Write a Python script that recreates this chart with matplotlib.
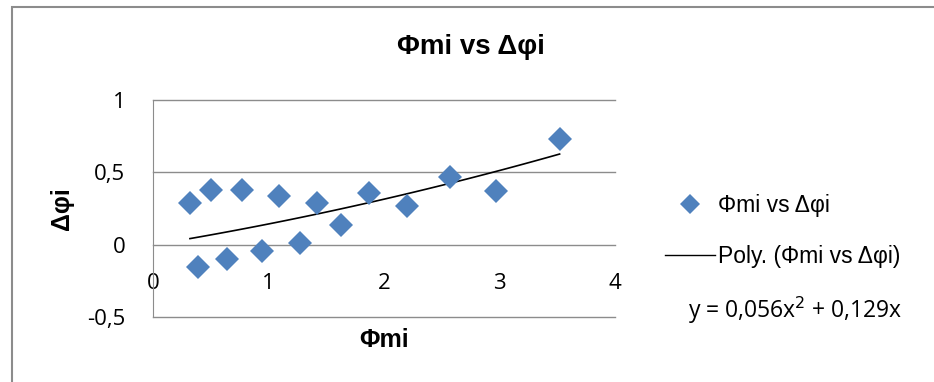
import matplotlib.pyplot as plt
import numpy as np
from matplotlib.patches import Rectangle
from matplotlib.lines import Line2D

plt.rcParams['font.family'] = ['Open Sans', 'DejaVu Sans']
greek_font = ['Liberation Sans', 'DejaVu Sans']

# measured points
phi_mi = [0.32, 0.39, 0.50, 0.64, 0.77, 0.94, 1.09, 1.27, 1.42, 1.63, 1.87, 2.20, 2.57, 2.97, 3.52]
delta_phi = [0.29, -0.15, 0.38, -0.10, 0.38, -0.04, 0.34, 0.01, 0.29, 0.14, 0.36, 0.27, 0.47, 0.37, 0.73]

x_ticks = [0, 1, 2, 3, 4]
y_ticks = [-0.5, 0, 0.5, 1]
y_tick_labels = ['-0,5', '0', '0,5', '1']
eq_text = 'y = 0,056x$^2$ + 0,129x'

x = np.array(phi_mi)
y = np.array(delta_phi)

# second order trend through the origin
A = np.column_stack([x ** 2, x])
coef, *_ = np.linalg.lstsq(A, y, rcond=None)
xs = np.linspace(x.min(), x.max(), 100)
ys = coef[0] * xs ** 2 + coef[1] * xs

fig = plt.figure(figsize=(9.34, 3.82), dpi=100)
ax = fig.add_axes([0.1638, 0.1694, 0.4947, 0.5688])

for yt in y_ticks:
    ax.axhline(yt, color='#8c8c8c', lw=1.0, zorder=1, clip_on=False)

ax.plot(xs, ys, color='black', lw=1.2, zorder=2)
ax.plot(x, y, 'D', color='#4f81bd', markersize=12.5, markeredgewidth=0, zorder=3)

ax.set_xlim(0, 4)
ax.set_ylim(-0.5, 1)
ax.set_xticks(x_ticks)
ax.set_yticks(y_ticks)
ax.set_yticklabels(y_tick_labels)
for s in ['top', 'right']:
    ax.spines[s].set_visible(False)
ax.spines['bottom'].set_position(('data', 0))
ax.spines['bottom'].set_visible(False)
ax.spines['left'].set_color('#8c8c8c')
ax.tick_params(axis='both', length=0, labelsize=16, colors='black')
ax.tick_params(axis='x', pad=20)
ax.tick_params(axis='y', pad=20)

fig.text(471 / 934, 1 - 47 / 382, 'Φmi vs Δφi', fontsize=20, fontweight='bold',
         family=greek_font, ha='center', va='center')
ax.set_xlabel('Φmi', fontsize=18, fontweight='bold', family=greek_font)
ax.xaxis.set_label_coords(0.5, -0.105)
ax.xaxis.label.set_va('center')
ax.set_ylabel('Δφi', fontsize=18, fontweight='bold', family=greek_font)
ax.yaxis.set_label_coords(-0.197, 0.5)
ax.yaxis.label.set_va('center')

# legend and equation on the right
handles = [
    Line2D([], [], marker='D', ls='none', color='#4f81bd', markersize=10, markeredgewidth=0),
    Line2D([], [], color='black', lw=1.0),
]
fig.legend(handles, ['Φmi vs Δφi', 'Poly. (Φmi vs Δφi)'], loc='center left',
           bbox_to_anchor=(0.6895, 0.395), frameon=False,
           prop={'family': greek_font, 'size': 16.5},
           handlelength=2.2, handletextpad=0.15, labelspacing=1.2)
fig.text(795 / 934, 1 - 310 / 382, eq_text, fontsize=16.5, ha='center', va='center')

# chart frame
fig.patches.append(Rectangle((12 / 934, -0.1), 1.0, 1.1 - 7 / 382, transform=fig.transFigure,
                             fill=False, edgecolor='#8c8c8c', lw=1.5))

fig.savefig('out.png', dpi=100)
